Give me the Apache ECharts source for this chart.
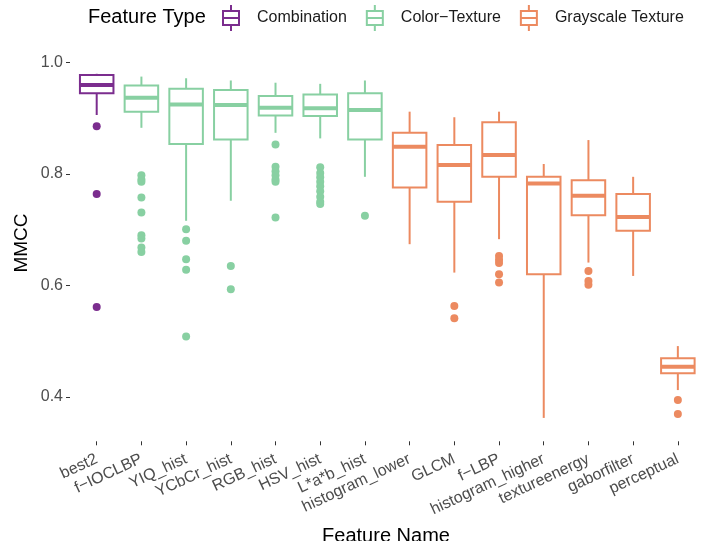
<!DOCTYPE html>
<html>
<head>
<meta charset="utf-8">
<title>MMCC by feature</title>
<script src="https://cdn.jsdelivr.net/npm/echarts@6/dist/echarts.min.js"></script>
<style>
  html, body { margin: 0; padding: 0; background: #ffffff; }
  #chart { width: 704px; height: 541px; }
</style>
</head>
<body>
<div id="chart"></div>
<script>
// Feature names along the x axis, and the feature type each belongs to
const categories = ['best2', 'f−IOCLBP', 'YIQ_hist', 'YCbCr_hist', 'RGB_hist', 'HSV_hist', 'L*a*b_hist',
  'histogram_lower', 'GLCM', 'f−LBP', 'histogram_higher', 'textureenergy', 'gaborfilter', 'perceptual'];
const featureTypes = ['Combination', 'Color−Texture', 'Grayscale Texture'];
const typeOfCategory = ['Combination', 'Color−Texture', 'Color−Texture', 'Color−Texture', 'Color−Texture',
  'Color−Texture', 'Color−Texture', 'Grayscale Texture', 'Grayscale Texture', 'Grayscale Texture',
  'Grayscale Texture', 'Grayscale Texture', 'Grayscale Texture', 'Grayscale Texture'];

// Box statistics per feature (lower whisker, Q1, median, Q3, upper whisker)
const whiskerLow  = [0.906, 0.883, 0.716, 0.752, 0.874, 0.864, 0.795, 0.674, 0.623, 0.683, 0.362, 0.641, 0.617, 0.412];
const quartile1   = [0.945, 0.912, 0.854, 0.862, 0.905, 0.904, 0.862, 0.776, 0.750, 0.795, 0.620, 0.726, 0.698, 0.442];
const medians     = [0.960, 0.937, 0.925, 0.924, 0.919, 0.918, 0.915, 0.849, 0.816, 0.834, 0.783, 0.761, 0.723, 0.454];
const quartile3   = [0.978, 0.959, 0.953, 0.951, 0.940, 0.943, 0.945, 0.874, 0.852, 0.893, 0.795, 0.789, 0.764, 0.469];
const whiskerHigh = [0.980, 0.975, 0.972, 0.968, 0.964, 0.962, 0.968, 0.912, 0.902, 0.912, 0.818, 0.861, 0.795, 0.491];

// Outlying MMCC values per feature
const outliers = [
  [0.886, 0.764, 0.561],
  [0.798, 0.790, 0.786, 0.758, 0.731, 0.690, 0.684, 0.668, 0.660],
  [0.701, 0.680, 0.647, 0.628, 0.508],
  [0.635, 0.593],
  [0.853, 0.813, 0.805, 0.798, 0.790, 0.786, 0.722],
  [0.812, 0.802, 0.794, 0.786, 0.778, 0.769, 0.759, 0.750, 0.746],
  [0.725],
  [],
  [0.563, 0.541],
  [0.653, 0.646, 0.640, 0.620, 0.605],
  [],
  [0.626, 0.608, 0.601],
  [],
  [0.394, 0.369]
];

// Y axis tick values
const yTicks = [0.4, 0.6, 0.8, 1.0];

const typeColors = {
  'Combination': '#7b2d8e',
  'Color−Texture': '#88d0a2',
  'Grayscale Texture': '#ec8a60'
};

const FONT = 'Liberation Sans, Arial, sans-serif';

// Box glyph used for the legend keys
const boxIcon = 'path://M8 0 L8 6 M0 6 L16 6 L16 20 L0 20 Z M0 13 L16 13 M8 20 L8 26';

function renderBox(params, api) {
  const x = api.value(0);
  const lo = api.coord([x, api.value(1)]);
  const b1 = api.coord([x, api.value(2)]);
  const md = api.coord([x, api.value(3)]);
  const b3 = api.coord([x, api.value(4)]);
  const hi = api.coord([x, api.value(5)]);
  const band = api.size([1, 0])[0];
  const w = band * 0.75;
  const cx = lo[0];
  const color = api.visual('color');
  return {
    type: 'group',
    children: [
      { type: 'line', shape: { x1: cx, y1: hi[1], x2: cx, y2: b3[1] }, style: { stroke: color, lineWidth: 2 } },
      { type: 'line', shape: { x1: cx, y1: b1[1], x2: cx, y2: lo[1] }, style: { stroke: color, lineWidth: 2 } },
      { type: 'rect', shape: { x: cx - w / 2, y: b3[1], width: w, height: b1[1] - b3[1] },
        style: { fill: '#ffffff', stroke: color, lineWidth: 2 } },
      { type: 'line', shape: { x1: cx - w / 2, y1: md[1], x2: cx + w / 2, y2: md[1] },
        style: { stroke: color, lineWidth: 4 } }
    ]
  };
}

const series = [];
featureTypes.forEach(function (t) {
  const boxes = [];
  const points = [];
  categories.forEach(function (c, i) {
    if (typeOfCategory[i] !== t) return;
    boxes.push([i, whiskerLow[i], quartile1[i], medians[i], quartile3[i], whiskerHigh[i]]);
    outliers[i].forEach(function (v) { points.push([i, v]); });
  });
  series.push({
    name: t,
    type: 'custom',
    renderItem: renderBox,
    itemStyle: { color: typeColors[t] },
    encode: { x: 0, y: [1, 2, 3, 4, 5] },
    data: boxes,
    z: 2
  });
  series.push({
    name: t,
    type: 'scatter',
    symbolSize: 8,
    itemStyle: { color: typeColors[t], opacity: 1 },
    data: points,
    z: 3
  });
});

const chart = echarts.init(document.getElementById('chart'), null, { renderer: 'canvas' });
chart.setOption({
  animation: false,
  backgroundColor: '#ffffff',
  textStyle: { fontFamily: FONT },
  grid: { left: 74.35, right: 3.8, top: 57.1, bottom: 99.7, containLabel: false },
  legend: {
    left: 222,
    top: 4,
    padding: 0,
    itemWidth: 16,
    itemHeight: 26,
    itemGap: 19,
    selectedMode: false,
    textStyle: { fontSize: 16, color: '#1a1a1a', padding: [0, 0, 0, 13], fontFamily: FONT },
    data: featureTypes.map(function (t) {
      return {
        name: t,
        icon: boxIcon,
        itemStyle: { color: 'rgba(0,0,0,0)', borderColor: typeColors[t], borderWidth: 2 }
      };
    })
  },
  graphic: [
    { type: 'text', x: 88, y: 17,
      style: { text: 'Feature Type', fontSize: 20, fill: '#000000', verticalAlign: 'middle', fontFamily: FONT } },
    { type: 'text', x: 22, y: 243, rotation: Math.PI / 2,
      style: { text: 'MMCC', fontSize: 19, fill: '#000000', align: 'center', verticalAlign: 'middle',
        fontFamily: FONT } },
    { type: 'text', x: 386, y: 526,
      style: { text: 'Feature Name', fontSize: 20, fill: '#000000', align: 'center', verticalAlign: 'top',
        fontFamily: FONT } }
  ],
  xAxis: {
    type: 'category',
    data: categories,
    boundaryGap: true,
    axisLine: { show: false },
    axisTick: { show: true, alignWithLabel: true, length: 4, lineStyle: { color: '#333333', width: 1 } },
    axisLabel: { interval: 0, rotate: 25, fontSize: 16, color: '#4d4d4d', margin: 17 },
    splitLine: { show: false }
  },
  yAxis: {
    type: 'value',
    min: 0.32,
    max: 1.01,
    offset: 4.35,
    axisLine: { show: false },
    axisTick: { show: true, length: 4, customValues: yTicks, lineStyle: { color: '#333333', width: 1 } },
    axisLabel: { customValues: yTicks, fontSize: 16, color: '#4d4d4d', margin: 7,
      formatter: function (v) { return v.toFixed(1); } },
    splitLine: { show: false }
  },
  series: series
});
</script>
</body>
</html>
